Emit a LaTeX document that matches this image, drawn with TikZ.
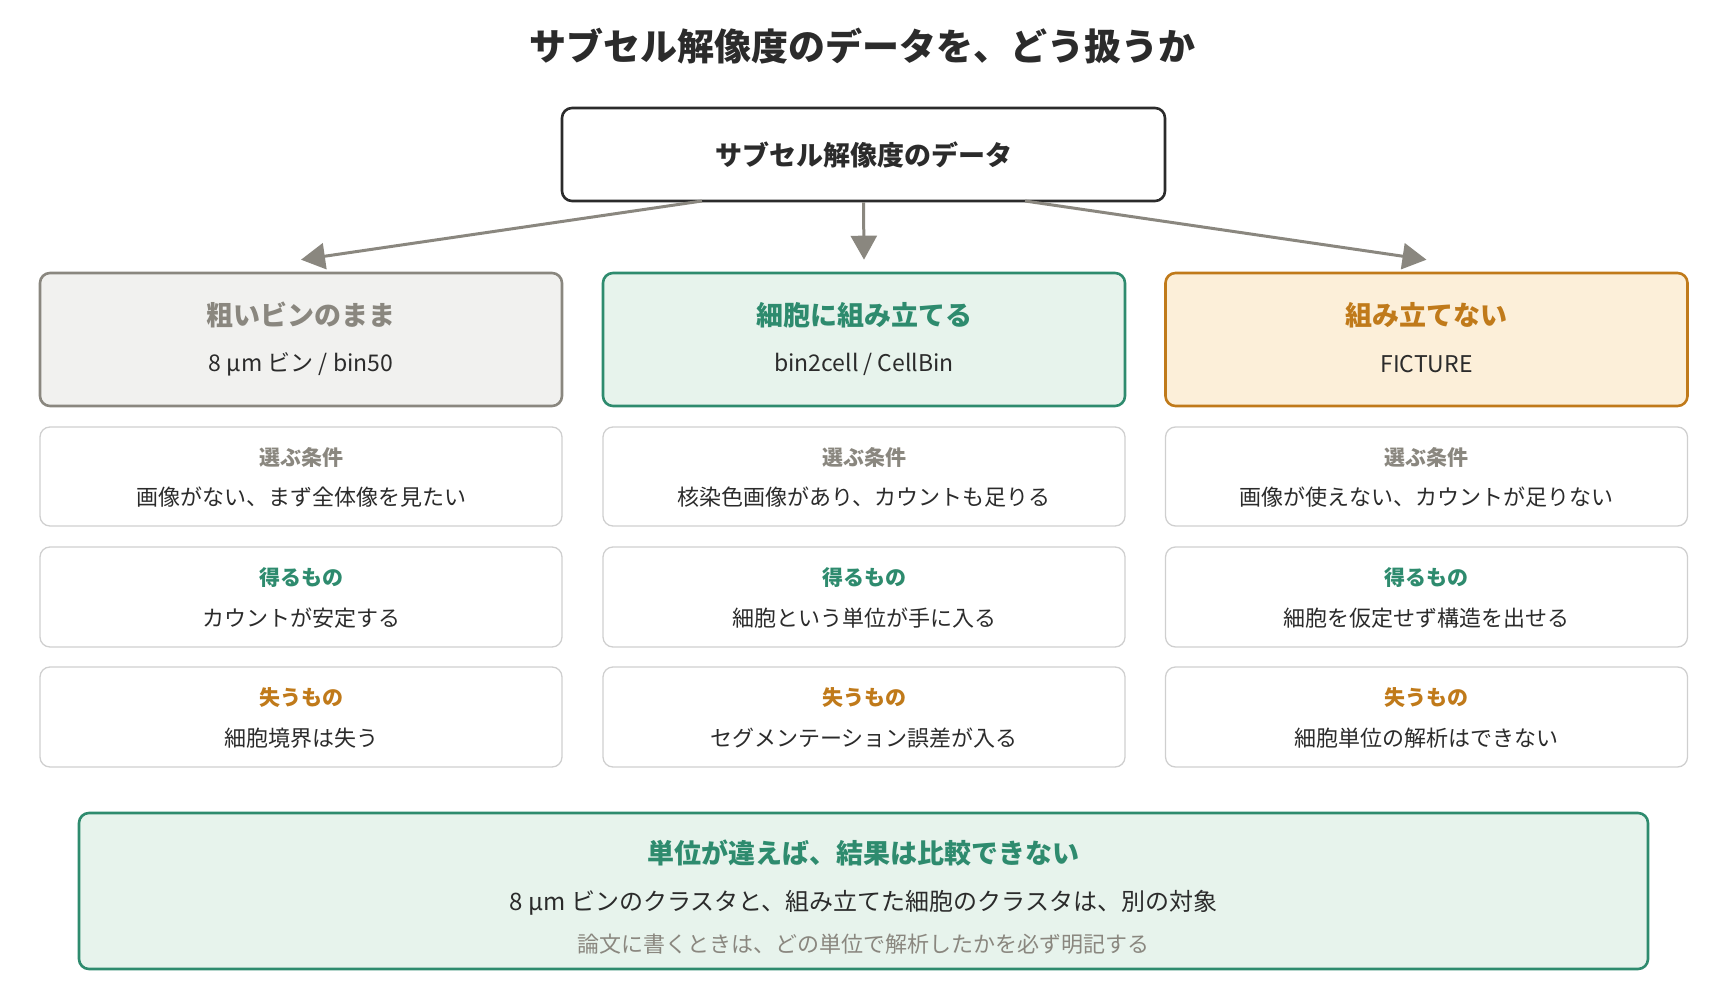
\documentclass[tikz,border=0pt]{standalone}
\usepackage{fontspec}
\usetikzlibrary{arrows.meta}
\setmainfont{Noto Sans CJK JP}
\definecolor{cg}{HTML}{8A877F}\definecolor{cgr}{HTML}{2E8B6E}\definecolor{cor}{HTML}{C07A1A}
\definecolor{fg}{HTML}{F1F1EF}\definecolor{fgr}{HTML}{E7F3EC}\definecolor{for}{HTML}{FCEFD9}
\definecolor{tx}{HTML}{2B2B2B}\definecolor{bd}{HTML}{CFCFCF}
\newcommand\mycolumn[9]{%
 \node[hdr,draw=#2,fill=#3,minimum width=522,minimum height=133] (h#9) at (#1,339.5) {};
 \node[fs=27,text=#2] at (#1,315) {\bfseries #4};
 \node[fs=23,text=tx] at (#1,364) {#5};
 \node[box,draw=bd,minimum width=522,minimum height=99] (k#9) at (#1,476.5) {};
 \node[fs=21,text=cg] at (#1,457) {\bfseries 選ぶ条件};
 \node[fs=22,text=tx] at (#1,497) {#6};
 \node[box,draw=bd,minimum width=522,minimum height=100] (g#9) at (#1,597) {};
 \node[fs=21,text=cgr] at (#1,578) {\bfseries 得るもの};
 \node[fs=22,text=tx] at (#1,618) {#7};
 \node[box,draw=bd,minimum width=522,minimum height=100] (l#9) at (#1,717) {};
 \node[fs=21,text=cor] at (#1,698) {\bfseries 失うもの};
 \node[fs=22,text=tx] at (#1,738) {#8};
}
\begin{document}
\begin{tikzpicture}[x=1pt,y=-1pt,
 box/.style={draw,rounded corners=10pt,line width=1.3pt},
 hdr/.style={box,line width=2.6pt},
 ar/.style={draw=cg,line width=3pt,-{Triangle[length=24pt,width=26pt]}},
 fs/.style={font=\fontsize{#1}{#1}\selectfont}]
\useasboundingbox (0,0) rectangle (1720,1000);
\node[fs=37,text=tx] (title) at (862,46) {\bfseries サブセル解像度のデータを、どう扱うか};
\node[box,draw=tx,line width=2.6pt,minimum width=603,minimum height=93,fs=27,text=tx] (top) at (863.5,154.5) {\bfseries サブセル解像度のデータ};
\mycolumn{301}{cg}{fg}{粗いビンのまま}{8 µm ビン / bin50}{画像がない、まず全体像を見たい}{カウントが安定する}{細胞境界は失う}{a}
\mycolumn{864}{cgr}{fgr}{細胞に組み立てる}{bin2cell / CellBin}{核染色画像があり、カウントも足りる}{細胞という単位が手に入る}{セグメンテーション誤差が入る}{b}
\mycolumn{1426.5}{cor}{for}{組み立てない}{FICTURE}{画像が使えない、カウントが足りない}{細胞を仮定せず構造を出せる}{細胞単位の解析はできない}{c}
\coordinate (s1) at (702,201);
\coordinate (s3) at (1025,201);
\draw[ar] (s1) -- ([yshift=12pt]ha.north);
\draw[ar] (top.south) -- ([yshift=12pt]hb.north);
\draw[ar] (s3) -- ([yshift=12pt]hc.north);
\node[box,draw=cgr,fill=fgr,line width=2.6pt,minimum width=1569,minimum height=156] (bot) at (863.5,891) {};
\node[fs=27,text=cgr] at (863.5,853) {\bfseries 単位が違えば、結果は比較できない};
\node[fs=24,text=tx] at (863.5,903) {8 µm ビンのクラスタと、組み立てた細胞のクラスタは、別の対象};
\node[fs=22,text=cg] at (863.5,944) {論文に書くときは、どの単位で解析したかを必ず明記する};
\end{tikzpicture}
\end{document}
